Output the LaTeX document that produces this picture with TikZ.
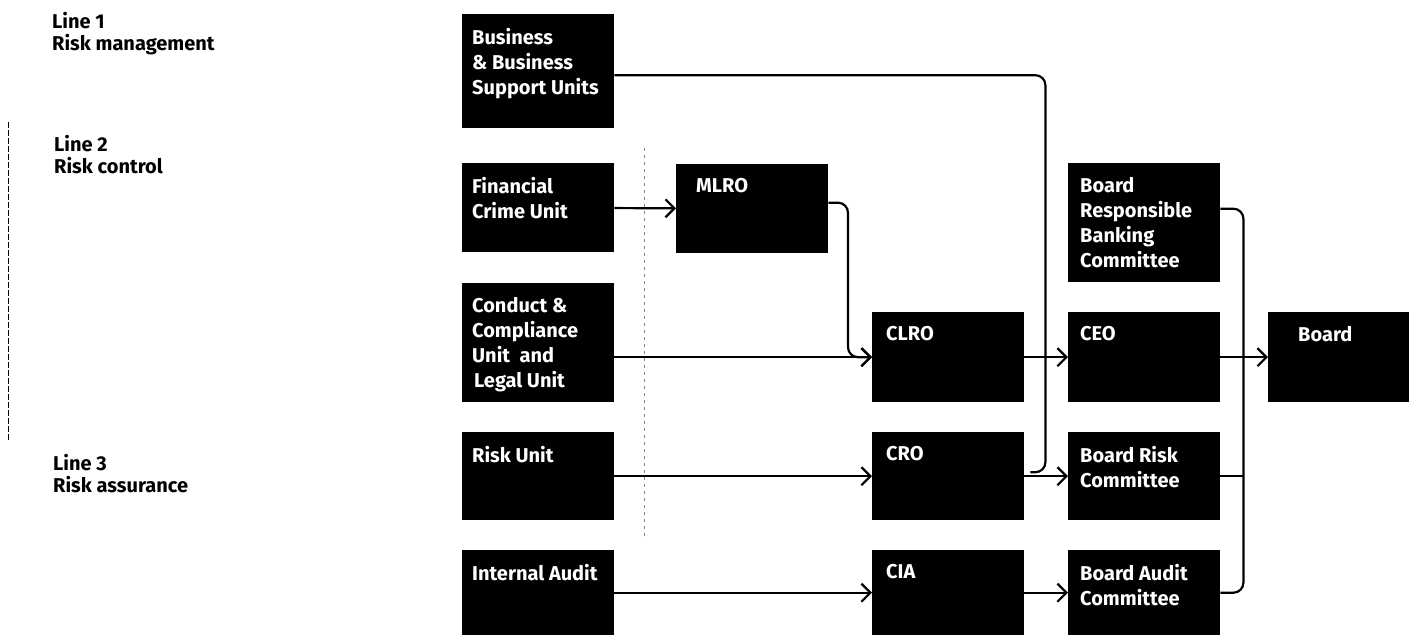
\documentclass[tikz,border=0pt]{standalone}
\usepackage{fontspec}
\setmainfont{Fira Sans}
\usetikzlibrary{arrows.meta}
\tikzset{
  ubox/.style={fill=black, minimum width=152pt, minimum height=#1, inner sep=0pt, anchor=north west},
  utext/.style={anchor=north west, text=white, align=left, inner xsep=10pt, inner ysep=14pt,
    font=\fontsize{20}{25}\selectfont\bfseries},
  side/.style={anchor=north west, align=left, inner sep=0pt, font=\fontsize{20}{22}\selectfont\bfseries},
  wire/.style={line width=2.2pt, rounded corners=10pt},
  feed/.style={wire, -{Straight Barb[length=9pt, width=18pt, line width=2.2pt]}},
}

\begin{document}
\begin{tikzpicture}[x=1pt, y=-1pt]
    \useasboundingbox (0,0) rectangle (1409,635);

    % lines of defence
    \node[side] (line1) at (52,12) {Line 1\\Risk management};
    \node[side] (line2) at (54,135) {Line 2\\Risk control};
    \node[side] (line3) at (53,454) {Line 3\\Risk assurance};
    \draw[line width=0.5pt, dash pattern=on 6pt off 2pt] (8,122) -- (8,440);
    \draw[gray, line width=0.8pt, dash pattern=on 3pt off 4pt] (644,148) -- (644,540);

    % units
    \node[ubox=114pt, label={[utext]north west:{Business\\\& Business\\Support Units}}] (bus) at (462,14) {};
    \node[ubox=89pt, label={[utext]north west:{Financial\\Crime Unit}}] (fcu) at (462,163) {};
    \node[ubox=119pt, label={[utext]north west:{Conduct \&\\Compliance\\Unit \ and\\\hspace{2pt}Legal Unit}}] (ccu) at (462,283) {};
    \node[ubox=88pt, label={[utext]north west:{Risk Unit}}] (risk) at (462,432) {};
    \node[ubox=85pt, label={[utext]north west:{Internal Audit}}] (ia) at (462,550) {};

    % officers
    \node[ubox=89pt, label={[utext, inner xsep=20pt]north west:{MLRO}}] (mlro) at (676,164) {};
    \node[ubox=90pt, label={[utext, inner xsep=14pt]north west:{CLRO}}] (clro) at (872,312) {};
    \node[ubox=88pt, label={[utext, inner xsep=14pt]north west:{CRO}}] (cro) at (872,432) {};
    \node[ubox=85pt, label={[utext, inner xsep=14pt]north west:{CIA}}] (cia) at (872,550) {};

    % committees
    \node[ubox=119pt, label={[utext, inner xsep=12pt]north west:{Board\\Responsible\\Banking\\Committee}}] (brbc) at (1068,163) {};
    \node[ubox=90pt, label={[utext, inner xsep=12pt]north west:{CEO}}] (ceo) at (1068,312) {};
    \node[ubox=88pt, label={[utext, inner xsep=12pt]north west:{Board Risk\\Committee}}] (brc) at (1068,432) {};
    \node[ubox=85pt, label={[utext, inner xsep=12pt]north west:{Board Audit\\Committee}}] (bac) at (1068,550) {};
    \node[ubox=90pt, minimum width=141pt, label={[utext, inner xsep=30pt]north west:{Board}}] (board) at (1268,312) {};

    % reporting lines
    \draw[feed] (fcu) -- (mlro);
    \draw[feed] ([yshift=6pt]mlro.east) -| ([xshift=-24pt]clro.west) -- (clro.west);
    \draw[feed] (ccu.east |- clro.west) -- (clro.west);
    \draw[feed] (risk) -- (cro);
    \draw[feed] (ia.east |- cia.west) -- (cia.west);
    \draw[wire] ([yshift=-4pt]bus.east) -| ([xshift=21pt, yshift=4pt]cro.east) -- ([xshift=6pt, yshift=4pt]cro.east);
    \draw[feed] (clro) -- (ceo);
    \draw[feed] (cro) -- (brc);
    \draw[feed] (cia) -- (bac);
    \draw[wire] ([yshift=14pt]brbc.east) -| ([xshift=23pt]bac.east) -- (bac.east);
    \draw[wire] (brc.east) -- ([xshift=23pt]brc.east);
    \draw[feed] (ceo) -- (board);
\end{tikzpicture}
\end{document}
